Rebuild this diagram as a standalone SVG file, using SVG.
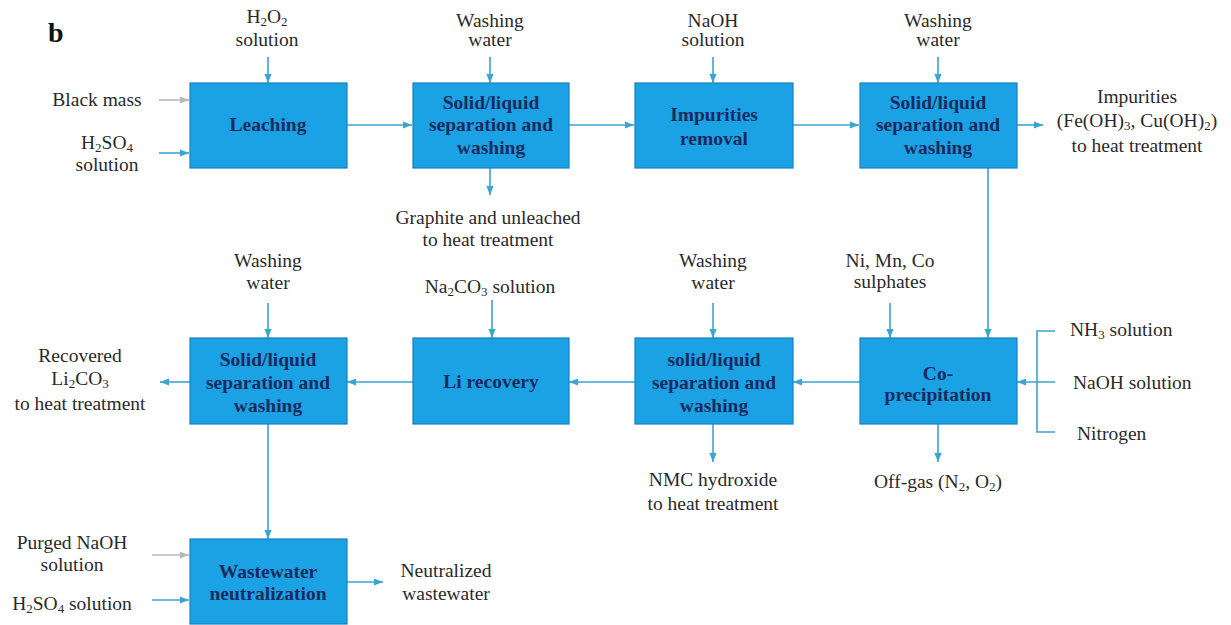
<svg xmlns="http://www.w3.org/2000/svg" width="1231" height="625" viewBox="0 0 1231 625">
<defs>
<style>
.box{fill:#1aa2e4;stroke:#1680bf;stroke-width:1.2}
.bt{font-family:"Liberation Serif","Times New Roman",serif;font-size:19.5px;font-weight:bold;fill:#1b2a5c;text-anchor:middle}
.t{font-family:"Liberation Serif","Times New Roman",serif;font-size:19.5px;fill:#2a2a2a;text-anchor:middle}
.ts{font-family:"Liberation Serif","Times New Roman",serif;font-size:19.5px;fill:#2a2a2a;text-anchor:start}
.s{font-size:13px}
.c{stroke:#3aa4d2;stroke-width:1.6;fill:none}
.g{stroke:#b8b8b8;stroke-width:1.6;fill:none}
</style>
<marker id="ah" viewBox="0 0 10 10" refX="10" refY="5" markerWidth="9" markerHeight="9" markerUnits="userSpaceOnUse" orient="auto"><path d="M0,1 L10,5 L0,9 z" fill="#3aa4d2"/></marker>
<marker id="ag" viewBox="0 0 10 10" refX="10" refY="5" markerWidth="9" markerHeight="9" markerUnits="userSpaceOnUse" orient="auto"><path d="M0,1 L10,5 L0,9 z" fill="#b8b8b8"/></marker>
</defs>
<rect width="1231" height="625" fill="#ffffff"/>
<text x="48" y="42" font-family="'Liberation Serif','Times New Roman',serif" font-size="28" font-weight="bold" fill="#111">b</text>

<g id="connectors">
<line class="c" x1="268" y1="57" x2="268" y2="83" marker-end="url(#ah)"/>
<line class="g" x1="159" y1="100" x2="189" y2="100" marker-end="url(#ag)"/>
<line class="c" x1="159" y1="153" x2="189" y2="153" marker-end="url(#ah)"/>
<line class="c" x1="347" y1="125" x2="412" y2="125" marker-end="url(#ah)"/>
<line class="c" x1="490" y1="57" x2="490" y2="83" marker-end="url(#ah)"/>
<line class="c" x1="490" y1="168" x2="490" y2="195" marker-end="url(#ah)"/>
<line class="c" x1="569" y1="125" x2="634" y2="125" marker-end="url(#ah)"/>
<line class="c" x1="713" y1="57" x2="713" y2="83" marker-end="url(#ah)"/>
<line class="c" x1="793" y1="125" x2="859" y2="125" marker-end="url(#ah)"/>
<line class="c" x1="938" y1="57" x2="938" y2="83" marker-end="url(#ah)"/>
<line class="c" x1="1017" y1="125" x2="1043" y2="125" marker-end="url(#ah)"/>
<line class="c" x1="988" y1="168" x2="988" y2="338" marker-end="url(#ah)"/>
<line class="c" x1="890" y1="303" x2="890" y2="338" marker-end="url(#ah)"/>
<polyline class="c" points="1055,331 1037,331 1037,432 1055,432"/>
<line class="c" x1="1055" y1="382" x2="1017" y2="382" marker-end="url(#ah)"/>
<line class="c" x1="938" y1="424" x2="938" y2="462" marker-end="url(#ah)"/>
<line class="c" x1="860" y1="382" x2="793" y2="382" marker-end="url(#ah)"/>
<line class="c" x1="713" y1="303" x2="713" y2="338" marker-end="url(#ah)"/>
<line class="c" x1="713" y1="424" x2="713" y2="462" marker-end="url(#ah)"/>
<line class="c" x1="635" y1="382" x2="569" y2="382" marker-end="url(#ah)"/>
<line class="c" x1="492" y1="300" x2="492" y2="338" marker-end="url(#ah)"/>
<line class="c" x1="413" y1="382" x2="347" y2="382" marker-end="url(#ah)"/>
<line class="c" x1="268" y1="303" x2="268" y2="338" marker-end="url(#ah)"/>
<line class="c" x1="190" y1="382" x2="160" y2="382" marker-end="url(#ah)"/>
<line class="c" x1="268" y1="424" x2="268" y2="539" marker-end="url(#ah)"/>
<line class="g" x1="152" y1="555" x2="189" y2="555" marker-end="url(#ag)"/>
<line class="c" x1="152" y1="600" x2="189" y2="600" marker-end="url(#ah)"/>
<line class="c" x1="347" y1="582" x2="383" y2="582" marker-end="url(#ah)"/>
</g>

<g id="leaching">
<rect class="box" x="190" y="83" width="157" height="85"/>
<text class="bt" x="268" y="131">Leaching</text>
</g>
<g id="sl1">
<rect class="box" x="413" y="83" width="156" height="85"/>
<text class="bt" x="491" y="109">Solid/liquid</text>
<text class="bt" x="491" y="131">separation  and</text>
<text class="bt" x="491" y="154">washing</text>
</g>
<g id="impurities">
<rect class="box" x="635" y="83" width="158" height="85"/>
<text class="bt" x="714" y="121">Impurities</text>
<text class="bt" x="714" y="145">removal</text>
</g>
<g id="sl2">
<rect class="box" x="860" y="83" width="157" height="85"/>
<text class="bt" x="938" y="109">Solid/liquid</text>
<text class="bt" x="938" y="131">separation and</text>
<text class="bt" x="938" y="154">washing</text>
</g>
<g id="coprecip">
<rect class="box" x="860" y="338" width="157" height="86"/>
<text class="bt" x="938" y="380">Co-</text>
<text class="bt" x="938" y="401">precipitation</text>
</g>
<g id="sl3">
<rect class="box" x="635" y="338" width="158" height="86"/>
<text class="bt" x="714" y="366">solid/liquid</text>
<text class="bt" x="714" y="389">separation and</text>
<text class="bt" x="714" y="412">washing</text>
</g>
<g id="lirecovery">
<rect class="box" x="413" y="338" width="156" height="86"/>
<text class="bt" x="491" y="388">Li recovery</text>
</g>
<g id="sl4">
<rect class="box" x="190" y="338" width="157" height="86"/>
<text class="bt" x="268" y="366">Solid/liquid</text>
<text class="bt" x="268" y="389">separation and</text>
<text class="bt" x="268" y="412">washing</text>
</g>
<g id="wastewater">
<rect class="box" x="190" y="539" width="157" height="85"/>
<text class="bt" x="268" y="578">Wastewater</text>
<text class="bt" x="268" y="600">neutralization</text>
</g>

<g id="labels">
<text class="t" x="267" y="23">H<tspan class="s" dy="3">2</tspan><tspan dy="-3">O</tspan><tspan class="s" dy="3">2</tspan></text>
<text class="t" x="267" y="46">solution</text>
<text class="t" x="97" y="106">Black mass</text>
<text class="t" x="107" y="149">H<tspan class="s" dy="3">2</tspan><tspan dy="-3">SO</tspan><tspan class="s" dy="3">4</tspan></text>
<text class="t" x="107" y="171">solution</text>
<text class="t" x="490" y="27">Washing</text>
<text class="t" x="490" y="46">water</text>
<text class="t" x="488" y="224">Graphite and unleached</text>
<text class="t" x="488" y="246">to heat treatment</text>
<text class="t" x="713" y="27">NaOH</text>
<text class="t" x="713" y="46">solution</text>
<text class="t" x="938" y="27">Washing</text>
<text class="t" x="938" y="46">water</text>
<text class="t" x="1137" y="103">Impurities</text>
<text class="t" x="1137" y="127">(Fe(OH)<tspan class="s" dy="3">3</tspan><tspan dy="-3">, Cu(OH)</tspan><tspan class="s" dy="3">2</tspan><tspan dy="-3">)</tspan></text>
<text class="t" x="1137" y="152">to heat treatment</text>
<text class="t" x="890" y="267">Ni, Mn, Co</text>
<text class="t" x="890" y="288">sulphates</text>
<text class="ts" x="1070" y="336">NH<tspan class="s" dy="3">3</tspan><tspan dy="-3"> solution</tspan></text>
<text class="ts" x="1073" y="389">NaOH solution</text>
<text class="ts" x="1077" y="440">Nitrogen</text>
<text class="t" x="938" y="488">Off-gas (N<tspan class="s" dy="3">2</tspan><tspan dy="-3">, O</tspan><tspan class="s" dy="3">2</tspan><tspan dy="-3">)</tspan></text>
<text class="t" x="713" y="267">Washing</text>
<text class="t" x="713" y="289">water</text>
<text class="t" x="713" y="486">NMC hydroxide</text>
<text class="t" x="713" y="510">to heat treatment</text>
<text class="t" x="490" y="293">Na<tspan class="s" dy="3">2</tspan><tspan dy="-3">CO</tspan><tspan class="s" dy="3">3</tspan><tspan dy="-3"> solution</tspan></text>
<text class="t" x="268" y="267">Washing</text>
<text class="t" x="268" y="289">water</text>
<text class="t" x="80" y="362">Recovered</text>
<text class="t" x="80" y="385">Li<tspan class="s" dy="3">2</tspan><tspan dy="-3">CO</tspan><tspan class="s" dy="3">3</tspan></text>
<text class="t" x="80" y="410">to heat treatment</text>
<text class="t" x="72" y="549">Purged NaOH</text>
<text class="t" x="72" y="571">solution</text>
<text class="t" x="72" y="610">H<tspan class="s" dy="3">2</tspan><tspan dy="-3">SO</tspan><tspan class="s" dy="3">4</tspan><tspan dy="-3"> solution</tspan></text>
<text class="t" x="446" y="577">Neutralized</text>
<text class="t" x="446" y="600">wastewater</text>
</g>
</svg>
